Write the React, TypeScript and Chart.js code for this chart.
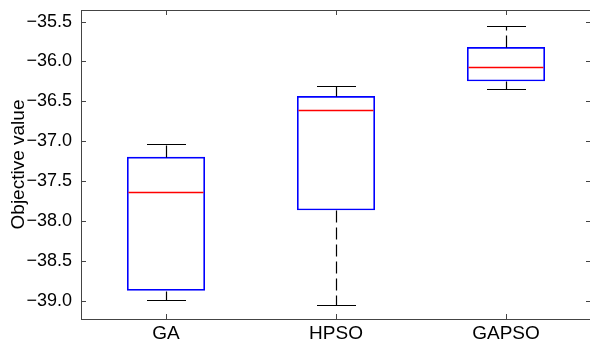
import React, { useEffect, useRef } from 'react';
import { Chart, registerables } from 'chart.js';

Chart.register(...registerables);

const categories = ['GA', 'HPSO', 'GAPSO'];
const whiskerLow = [-38.99, -39.05, -36.35];
const quartile1 = [-38.875, -37.866, -36.25];
const medians = [-37.634, -36.61, -36.07];
const quartile3 = [-37.196, -36.434, -35.82];
const whiskerHigh = [-37.03, -36.31, -35.55];
const yTicks = [-39.0, -38.5, -38.0, -37.5, -37.0, -36.5, -36.0, -35.5];
const yTickLabels = ['\u221239.0', '\u221238.5', '\u221238.0', '\u221237.5', '\u221237.0', '\u221236.5', '\u221236.0', '\u221235.5'];
const yMin = -39.23;
const yMax = -35.355;

const FONT = 'Liberation Sans, Arial, Helvetica, sans-serif';

const boxPlugin = {
  id: 'boxExtras',
  afterDatasetsDraw(chart: any) {
    const ctx: CanvasRenderingContext2D = chart.ctx;
    const area = chart.chartArea;
    const y = chart.scales.y;
    const x = chart.scales.x;
    const meta = chart.getDatasetMeta(0);
    const line = (x1: number, y1: number, x2: number, y2: number) => {
      ctx.beginPath();
      ctx.moveTo(x1, y1);
      ctx.lineTo(x2, y2);
      ctx.stroke();
    };
    const py = (v: number) => Math.round(y.getPixelForValue(v)) + 0.5;
    ctx.save();
    meta.data.forEach((bar: any, i: number) => {
      const cx = Math.round(bar.x) + 0.5;
      const w = bar.width;
      const capHalf = w / 4;
      ctx.lineWidth = 1.2;
      ctx.strokeStyle = '#000000';
      ctx.setLineDash([12, 5]);
      line(cx, py(quartile3[i]), cx, py(whiskerHigh[i]));
      line(cx, py(quartile1[i]), cx, py(whiskerLow[i]));
      ctx.setLineDash([]);
      line(cx - capHalf, py(whiskerHigh[i]), cx + capHalf, py(whiskerHigh[i]));
      line(cx - capHalf, py(whiskerLow[i]), cx + capHalf, py(whiskerLow[i]));
    });
    meta.data.forEach((bar: any, i: number) => {
      const w = bar.width;
      ctx.lineWidth = 1.5;
      ctx.strokeStyle = 'rgb(255,0,0)';
      ctx.setLineDash([]);
      line(bar.x - w / 2 + 1.5, py(medians[i]), bar.x + w / 2 - 1.5, py(medians[i]));
    });
    // frame (top & right) and inside tick marks
    ctx.lineWidth = 1;
    ctx.strokeStyle = '#444444';
    line(area.left, area.top + 0.5, area.right, area.top + 0.5);
    line(area.right - 0.5, area.top, area.right - 0.5, area.bottom);
    const tl = 5;
    yTicks.forEach((v) => {
      const p = py(v);
      line(area.left, p, area.left + tl, p);
      line(area.right, p, area.right - tl, p);
    });
    categories.forEach((_, i) => {
      const p = Math.round(x.getPixelForValue(i)) + 0.5;
      line(p, area.bottom, p, area.bottom - tl);
      line(p, area.top, p, area.top + tl);
    });
    ctx.restore();
  },
};

export default function App() {
  const canvasRef = useRef<HTMLCanvasElement | null>(null);

  useEffect(() => {
    if (!canvasRef.current) return;
    const chart = new Chart(canvasRef.current, {
      type: 'bar',
      data: {
        labels: categories,
        datasets: [
          {
            data: categories.map((_, i) => [quartile1[i], quartile3[i]]) as any,
            backgroundColor: 'rgba(0,0,0,0)',
            borderColor: '#0000ff',
            borderWidth: 1.6,
            borderSkipped: false,
            inflateAmount: 0,
            barPercentage: 78 / 170,
            categoryPercentage: 1,
          },
        ],
      },
      options: {
        animation: false,
        responsive: false,
        devicePixelRatio: 1,
        events: [],
        layout: { padding: { top: 10, right: 9, left: 0, bottom: 0 } },
        plugins: { legend: { display: false }, tooltip: { enabled: false } },
        scales: {
          x: {
            type: 'category',
            offset: true,
            grid: { display: false, drawTicks: false },
            border: { display: true, color: '#444', width: 1 },
            ticks: {
              color: '#000',
              font: { size: 19, family: FONT },
              padding: 3,
              maxRotation: 0,
              autoSkip: false,
            },
            afterFit: (s: any) => {
              s.height = 23;
              s.paddingLeft = 0;
              s.paddingRight = 0;
            },
          },
          y: {
            type: 'linear',
            min: yMin,
            max: yMax,
            grid: { display: false, drawTicks: false },
            border: { display: true, color: '#444', width: 1 },
            afterBuildTicks: (s: any) => {
              s.ticks = yTicks.map((v) => ({ value: v }));
            },
            ticks: {
              color: '#000',
              font: { size: 18, family: FONT },
              padding: 9,
              callback: (_v: any, i: number) => yTickLabels[i],
            },
            title: {
              display: true,
              text: 'Objective value',
              color: '#000',
              font: { size: 19, family: FONT },
              padding: { top: 7, bottom: 0 },
            },
            afterFit: (s: any) => {
              s.width = 81;
              s.paddingTop = 0;
              s.paddingBottom = 0;
            },
          },
        },
      },
      plugins: [boxPlugin],
    });
    return () => chart.destroy();
  }, []);

  return (
    <div style={{ position: 'absolute', left: 0, top: 0, width: 590, height: 342, overflow: 'hidden', background: '#fff' }}>
      <canvas ref={canvasRef} width={600} height={342} style={{ width: 600, height: 342, display: 'block' }} />
    </div>
  );
}
